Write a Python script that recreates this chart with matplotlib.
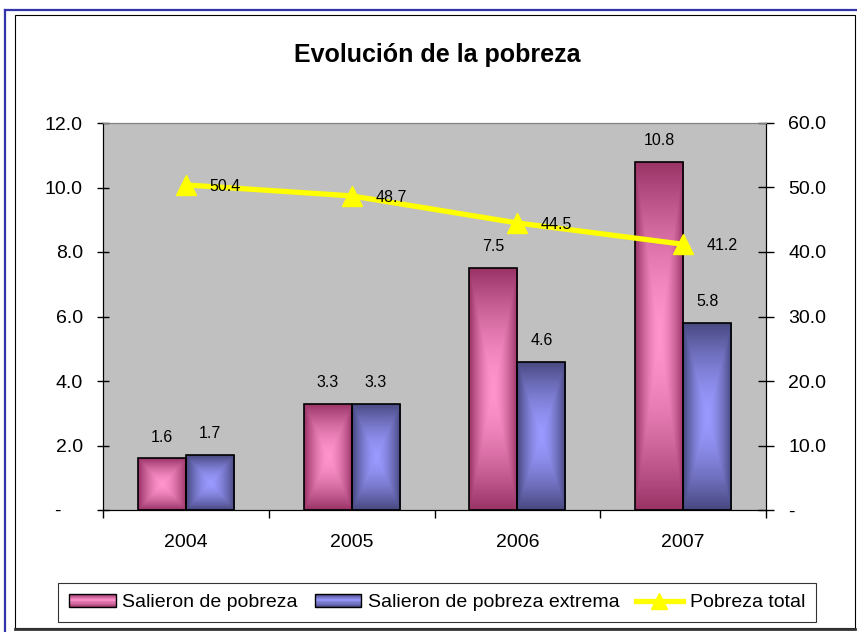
import numpy as np
import matplotlib
matplotlib.use("Agg")
import matplotlib.pyplot as plt
from matplotlib.colors import LinearSegmentedColormap
from matplotlib.patches import Rectangle
from matplotlib.lines import Line2D
from matplotlib.legend_handler import HandlerBase

plt.rcParams['font.family'] = ['Liberation Sans', 'DejaVu Sans']

years = ["2004", "2005", "2006", "2007"]
salieron_pobreza = [1.6, 3.3, 7.5, 10.8]
salieron_extrema = [1.7, 3.3, 4.6, 5.8]
pobreza_total = [50.4, 48.7, 44.5, 41.2]
left_ticks = [0, 2, 4, 6, 8, 10, 12]
right_ticks = [0, 10, 20, 30, 40, 50, 60]

title = "Evolución de la pobreza"
labels = ["Salieron de pobreza", "Salieron de pobreza extrema", "Pobreza total"]

PINK_EDGE, PINK_CENTER = (0.60, 0.20, 0.40), (1.0, 0.58, 0.80)
BLUE_EDGE, BLUE_CENTER = (0.28, 0.28, 0.50), (0.60, 0.60, 1.0)

TICK_FS = 14
LABEL_FS = 11.5

W, H = 857, 632
fig = plt.figure(figsize=(W / 100, H / 100), dpi=100)

def px(x, y):
    return x / W, 1 - y / H
fig.add_artist(Line2D([5 / W, 5 / W], [0, 1 - 10 / H], color='#3333AA', lw=1.6, transform=fig.transFigure))
fig.add_artist(Line2D([5 / W, 1], [1 - 10 / H, 1 - 10 / H], color='#3333AA', lw=1.6, transform=fig.transFigure))
fig.add_artist(Rectangle(px(15, 628), (855 - 15) / W, (628 - 15) / H, transform=fig.transFigure,
                         fill=False, edgecolor='black', lw=0.8))
fig.add_artist(Line2D([15 / W, 855 / W], [1 - 628.5 / H, 1 - 628.5 / H], color='#333333', lw=2.0,
                      transform=fig.transFigure))

ax = fig.add_axes([103 / W, (632 - 510) / H, (766 - 103) / W, (510 - 123) / H])
ax.set_facecolor('#C0C0C0')
x = np.arange(len(years))
bw = 0.29

cm_pink = LinearSegmentedColormap.from_list('p', [PINK_CENTER, PINK_EDGE])
cm_blue = LinearSegmentedColormap.from_list('b', [BLUE_CENTER, BLUE_EDGE])

def grad_img(n=200, m=60):
    v = np.linspace(-1, 1, n)[:, None]
    u = np.linspace(-1, 1, m)[None, :]
    t = np.maximum(np.abs(u), np.abs(v))
    return t ** 1.6

bars1 = ax.bar(x - bw / 2, salieron_pobreza, bw, facecolor='none', edgecolor='black', lw=1.2, zorder=3)
bars2 = ax.bar(x + bw / 2, salieron_extrema, bw, facecolor='none', edgecolor='black', lw=1.2, zorder=3)
for bars, cmap in ((bars1, cm_pink), (bars2, cm_blue)):
    for b in bars:
        x0, y0 = b.get_x(), b.get_y()
        w, h = b.get_width(), b.get_height()
        im = ax.imshow(grad_img(), cmap=cmap, vmin=0, vmax=1, extent=[x0, x0 + w, y0, y0 + h],
                       aspect='auto', zorder=2, interpolation='bilinear')
        im.set_clip_path(b)

for bars, vals in ((bars1, salieron_pobreza), (bars2, salieron_extrema)):
    for b, v in zip(bars, vals):
        ax.annotate(f"{v:.1f}", (b.get_x() + b.get_width() / 2, v), xytext=(0, 10),
                    textcoords='offset points', ha='center', va='bottom', fontsize=LABEL_FS)

ax.set_xlim(-0.5, len(years) - 0.5)
ax.set_ylim(0, 12)
ax.set_yticks(left_ticks)
ax.set_yticklabels(["-    "] + [f"{t:.1f}" for t in left_ticks[1:]], fontsize=TICK_FS)
ax.tick_params(axis='y', direction='inout', length=9, width=1, pad=10)
ax.set_xticks(np.arange(len(years) + 1) - 0.5)
ax.set_xticklabels([])
ax.tick_params(axis='x', direction='out', length=6, width=1)
ax.set_xticks(x, minor=True)
ax.set_xticklabels(years, minor=True, fontsize=TICK_FS)
ax.tick_params(axis='x', which='minor', length=0, pad=17)
ax.spines['top'].set_color('#808080')
for s in ('left', 'bottom', 'right'):
    ax.spines[s].set_color('black')

ax2 = ax.twinx()
ax2.plot(x, pobreza_total, color='#FFFF00', lw=3.8, marker='^', markersize=15, zorder=5)
for xi, v in zip(x, pobreza_total):
    ax2.annotate(f"{v:.1f}", (xi, v), xytext=(17, -1), textcoords='offset points',
                 ha='left', va='center', fontsize=LABEL_FS, zorder=7)
ax2.set_ylim(0, 60)
ax2.set_yticks(right_ticks)
ax2.set_yticklabels(["-"] + [f"{t:.1f}" for t in right_ticks[1:]], fontsize=TICK_FS)
ax2.tick_params(axis='y', direction='inout', length=12, width=1, pad=10)
ax2.spines['top'].set_color('#808080')
ax2.spines['right'].set_color('black')

fig.text(437 / W, 1 - 55 / H, title, ha='center', va='center', fontsize=18, fontweight='bold')

class GradHandler(HandlerBase):
    def __init__(self, edge, center):
        super().__init__()
        self.edge, self.center = np.array(edge), np.array(center)
    def create_artists(self, legend, orig_handle, xdescent, ydescent, width, height, fontsize, trans):
        arts = []
        n = 12
        for i in range(n):
            t = abs((i + 0.5) / n * 2 - 1)
            c = self.center * (1 - t) + self.edge * t
            arts.append(Rectangle((-xdescent, -ydescent + height * i / n), width, height / n,
                                  facecolor=c, edgecolor='none', transform=trans))
        arts.append(Rectangle((-xdescent, -ydescent), width, height, fill=False,
                              edgecolor='black', lw=1, transform=trans))
        return arts

h1 = Rectangle((0, 0), 1, 1)
h2 = Rectangle((0, 0), 1, 1)
h3 = Line2D([], [], color='#FFFF00', lw=3.8, marker='^', markersize=12)
leg = fig.legend([h1, h2, h3], labels, loc='center', bbox_to_anchor=(437 / W, 1 - 602.5 / H),
                 ncol=3, fontsize=14, frameon=True, fancybox=False, edgecolor='black',
                 handlelength=2.4, handleheight=0.65, handletextpad=0.35, columnspacing=0.85,
                 borderpad=0.55, handler_map={h1: GradHandler(PINK_EDGE, PINK_CENTER),
                                              h2: GradHandler(BLUE_EDGE, BLUE_CENTER)})
leg.get_frame().set_linewidth(0.8)

fig.savefig('out.png', dpi=100)
